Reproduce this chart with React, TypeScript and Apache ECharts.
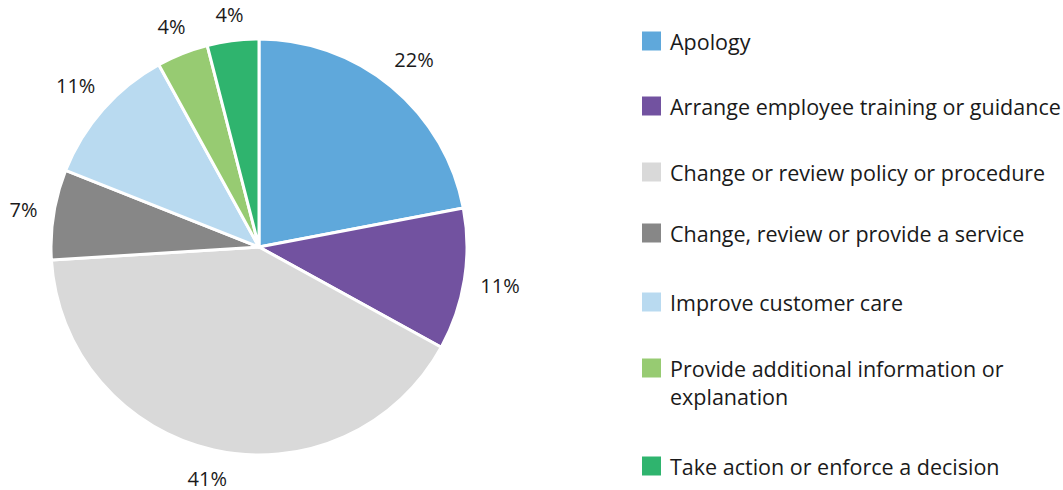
import React, { useEffect, useRef } from "react";
import * as echarts from "echarts";

const categories = [
  "Apology",
  "Arrange employee training or guidance",
  "Change or review policy or procedure",
  "Change, review or provide a service",
  "Improve customer care",
  "Provide additional information or explanation",
  "Take action or enforce a decision",
];
const values = [22, 11, 41, 7, 11, 4, 4];
const colors = ["#5fa8db", "#7252a0", "#d9d9d9", "#878787", "#b9daf0", "#97cb72", "#2fb46e"];
const legendLabels = [
  "Apology",
  "Arrange employee training or guidance",
  "Change or review policy or procedure",
  "Change, review or provide a service",
  "Improve customer care",
  "\nProvide additional information or\nexplanation",
  "Take action or enforce a decision",
];
const legendCenters = [41, 106, 172, 233, 302, 368, 466];

const FONT = "Open Sans";

export default function App() {
  const ref = useRef<HTMLDivElement>(null);
  useEffect(() => {
    const chart = echarts.init(ref.current!, null, { renderer: "svg" });
    const cx = 259;
    const cy = 247;
    const R = 208;
    const GAP = 15;
    const total = values.reduce((a, b) => a + b, 0);
    let acc = 0;
    const midAngles = values.map((v) => {
      const mid = acc + v / 2;
      acc += v;
      return (90 - (mid / total) * 360) * (Math.PI / 180);
    });
    const legends = categories.map((name, i) => {
      const lines = legendLabels[i].split("\n").length;
      return {
        data: [name],
        left: 640,
        top: legendCenters[i] - (lines * 28) / 2,
        padding: 0,
        icon: "rect",
        itemWidth: 21,
        itemHeight: 21,
        selectedMode: false,
        formatter: () => legendLabels[i],
        textStyle: {
          fontFamily: FONT,
          fontSize: 21.5,
          color: "#1a1a1a",
          lineHeight: 28,
          padding: [0, 0, 0, 3],
        },
      };
    });
    chart.setOption({
      animation: false,
      backgroundColor: "#ffffff",
      legend: legends,
      series: [
        {
          type: "pie",
          center: [cx, cy],
          radius: [0, R],
          startAngle: 90,
          clockwise: true,
          silent: true,
          label: {
            show: true,
            position: "inside",
            formatter: (p: any) => p.value + "%",
            fontFamily: FONT,
            fontSize: 20,
            lineHeight: 18,
            color: "#1a1a1a",
          },
          labelLine: { show: false },
          labelLayout: (p: any) => {
            const a = midAngles[p.dataIndex];
            const w = p.labelRect.width;
            const h = p.labelRect.height;
            const ext = (w / 2) * Math.abs(Math.cos(a)) + (h / 2) * Math.abs(Math.sin(a));
            const d = R + GAP + ext;
            return {
              x: cx + d * Math.cos(a),
              y: cy - d * Math.sin(a),
              align: "center",
              verticalAlign: "middle",
            };
          },
          itemStyle: { borderColor: "#ffffff", borderWidth: 3 },
          data: categories.map((name, i) => ({
            name,
            value: values[i],
            itemStyle: { color: colors[i] },
          })),
        },
      ],
    });
    return () => chart.dispose();
  }, []);
  return (
    <div
      ref={ref}
      style={{ position: "fixed", left: 0, top: 0, width: 1063, height: 490, background: "#fff" }}
    />
  );
}
